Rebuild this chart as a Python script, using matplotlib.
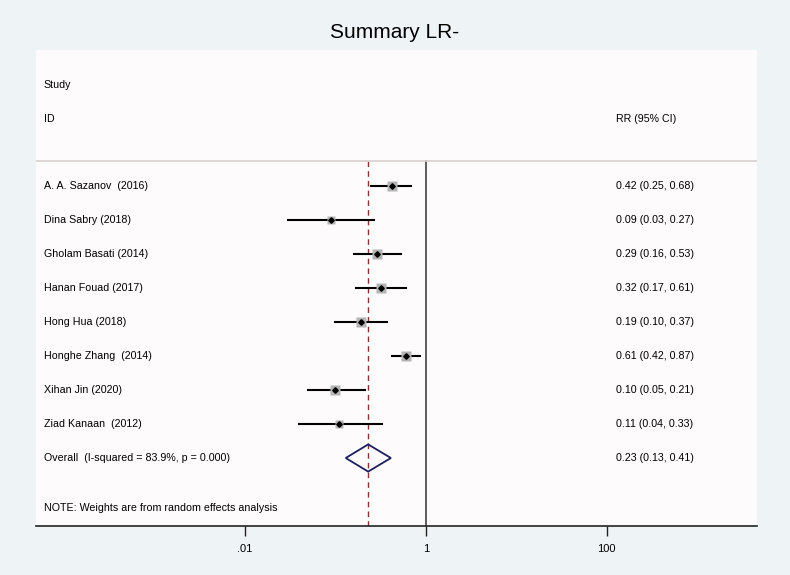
import numpy as np
import matplotlib.pyplot as plt
import matplotlib.transforms as mtransforms

plt.rcParams['font.family'] = ['Liberation Sans', 'DejaVu Sans']

# data
studies = ['A. A. Sazanov  (2016)', 'Dina Sabry (2018)', 'Gholam Basati (2014)',
           'Hanan Fouad (2017)', 'Hong Hua (2018)', 'Honghe Zhang  (2014)',
           'Xihan Jin (2020)', 'Ziad Kanaan  (2012)']
rr = [0.42, 0.09, 0.29, 0.32, 0.19, 0.61, 0.10, 0.11]
lower = [0.25, 0.03, 0.16, 0.17, 0.10, 0.42, 0.05, 0.04]
upper = [0.68, 0.27, 0.53, 0.61, 0.37, 0.87, 0.21, 0.33]
weights = [13.5, 10.9, 12.9, 12.7, 12.8, 14.3, 12.2, 10.7]
overall = (0.23, 0.13, 0.41)
overall_label = 'Overall  (I-squared = 83.9%, p = 0.000)'
note = 'NOTE: Weights are from random effects analysis'
xticks = [0.01, 1, 100]
xticklabels = ['.01', '1', '100']

bg = '#EEF4F5'
fig = plt.figure(figsize=(7.9, 5.75), dpi=100, facecolor=bg)
ax = fig.add_axes([36 / 790, 1 - 526 / 575, 721 / 790, 476 / 575])
ax.set_facecolor('#FDFBFC')

ax.set_xscale('log')
ax.set_xlim(10 ** -4.31, 10 ** 3.66)
ax.set_ylim(11, -3)

rows = np.arange(1, len(studies) + 1)
ov_row = len(studies) + 1

# reference lines
ax.plot([1, 1], [0.26, 11], color='#333333', lw=1.1, zorder=1)
ax.plot([overall[0], overall[0]], [0.26, 11], color='#A0282D', lw=1.0,
        ls=(0, (4, 3)), zorder=1)
ax.axhline(0.26, color='#D8CFCC', lw=1.2, zorder=1)

# study estimates
for y, r, lo, hi, w in zip(rows, rr, lower, upper, weights):
    ax.plot([lo, hi], [y, y], color='black', lw=1.5, zorder=2)
    ax.plot(r, y, marker='s', ms=w * 0.55, color='#B4B4B4', mec='none', zorder=3)
    ax.plot(r, y, marker='D', ms=2.8, color='black', zorder=4)

# pooled diamond
m, lo, hi = overall
ax.fill([lo, m, hi, m, lo], [ov_row, ov_row - 0.4, ov_row, ov_row + 0.4, ov_row],
        facecolor='none', edgecolor='#1B1F5E', lw=1.3, zorder=3)

# text columns
tr = mtransforms.blended_transform_factory(ax.transAxes, ax.transData)
fs = 7.7
ax.text(0.011, -1.97, 'Study', transform=tr, fontsize=fs, va='center')
ax.text(0.011, -0.97, 'ID', transform=tr, fontsize=fs, va='center')
ax.text(0.804, -0.97, 'RR (95% CI)', transform=tr, fontsize=fs, va='center')
for y, name, r, l, h in zip(rows, studies, rr, lower, upper):
    ax.text(0.011, y, name, transform=tr, fontsize=fs, va='center')
    ax.text(0.804, y, f'{r:.2f} ({l:.2f}, {h:.2f})', transform=tr, fontsize=fs, va='center')
ax.text(0.011, ov_row, overall_label, transform=tr, fontsize=fs, va='center')
ax.text(0.804, ov_row, f'{m:.2f} ({lo:.2f}, {hi:.2f})', transform=tr, fontsize=fs, va='center')
ax.text(0.011, 10.47, note, transform=tr, fontsize=fs, va='center')

for s in ['top', 'left', 'right']:
    ax.spines[s].set_visible(False)
ax.spines['bottom'].set_color('#222222')
ax.spines['bottom'].set_linewidth(1.2)
ax.set_yticks([])
ax.set_xticks(xticks)
ax.set_xticklabels(xticklabels)
ax.xaxis.set_minor_locator(plt.NullLocator())
ax.tick_params(axis='x', length=7, width=1, labelsize=8, pad=6, color='#222222')

fig.text(0.5, 1 - 33 / 575, 'Summary LR-', ha='center', va='center', fontsize=15)

fig.savefig('out.png', dpi=100, facecolor=bg)
